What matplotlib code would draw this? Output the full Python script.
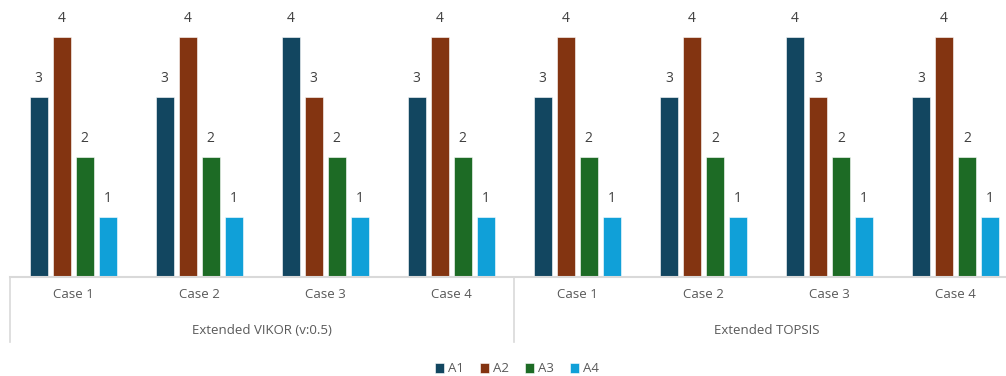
import matplotlib.pyplot as plt
import numpy as np

plt.rcParams['font.family'] = ['Open Sans', 'DejaVu Sans']

cases = ["Case 1", "Case 2", "Case 3", "Case 4"] * 2
methods = ["Extended VIKOR (v:0.5)", "Extended TOPSIS"]
series = ["A1", "A2", "A3", "A4"]
a1 = [3, 3, 4, 3, 3, 3, 4, 3]
a2 = [4, 4, 3, 4, 4, 4, 3, 4]
a3 = [2, 2, 2, 2, 2, 2, 2, 2]
a4 = [1, 1, 1, 1, 1, 1, 1, 1]
colors = ["#124660", "#833411", "#1d6b25", "#10a0d8"]

fig = plt.figure(figsize=(10.06, 3.76), dpi=100)
ax = fig.add_axes([10 / 1006, 1 - 277 / 376, 1 - 10 / 1006, 277 / 376])

x = np.arange(len(cases))
width = 18 / 126
step = 23 / 126
handles = []
for k, vals in enumerate([a1, a2, a3, a4]):
    pos = x + (k - 1.5) * step
    b = ax.bar(pos, vals, width, color=colors[k], edgecolor="white", linewidth=0.4, label=series[k])
    handles.append(b)
    for p, v in zip(pos, vals):
        ax.annotate(str(v), (p, v), xytext=(0, 13), textcoords="offset points",
                    ha="center", va="center", fontsize=10, color="#404040")

ax.set_xlim(-0.5, (1006 - 73.5) / 126)
ax.set_ylim(0, 277 / 60)
for s in ["top", "right", "left"]:
    ax.spines[s].set_visible(False)
ax.spines["bottom"].set_color("#d9d9d9")
ax.spines["bottom"].set_linewidth(1.5)
ax.set_yticks([])
ax.set_xticks(x)
ax.set_xticklabels(cases, fontsize=9.5, color="#595959")
ax.tick_params(axis="x", length=0, pad=8)

trans = ax.get_xaxis_transform()
for sx in [-0.5, 3.5]:
    ax.plot([sx, sx], [0, -0.235], transform=trans, color="#d9d9d9", lw=1.2, clip_on=False)
for m, cx in zip(methods, [1.5, 5.5]):
    ax.text(cx, -(330 - 277) / 277, m, transform=trans, ha="center", va="center",
            fontsize=9.5, color="#595959")

fig.legend(handles=handles, labels=series, loc="center", ncol=4, frameon=False,
           bbox_to_anchor=(517 / 1006, 1 - 369 / 376), fontsize=9.5,
           handlelength=0.7, handleheight=0.7, handletextpad=0.3, columnspacing=1.2,
           labelcolor="#595959")

fig.savefig("out.png", dpi=100)
